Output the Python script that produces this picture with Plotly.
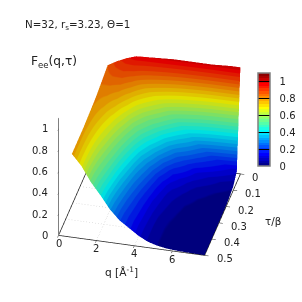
import plotly.graph_objects as go

q_values = [0.7, 1.2, 1.7, 2.2, 2.7, 3.2, 3.7, 4.2, 4.7, 5.2, 5.7, 6.2, 6.7, 7.2, 7.7]
tau_values = [0, 0.05, 0.1, 0.15, 0.2, 0.25, 0.3, 0.35, 0.4, 0.45, 0.5]
# one row per q, one entry per tau
F_q07 = [0.85, 0.835, 0.82, 0.805, 0.795, 0.79, 0.785, 0.78, 0.78, 0.78, 0.78]
F_q12 = [0.90, 0.86, 0.82, 0.785, 0.755, 0.73, 0.71, 0.695, 0.685, 0.68, 0.68]
F_q17 = [0.94, 0.87, 0.80, 0.74, 0.69, 0.655, 0.625, 0.595, 0.57, 0.55, 0.54]
F_q22 = [0.97, 0.84, 0.74, 0.66, 0.60, 0.555, 0.52, 0.49, 0.465, 0.44, 0.43]
F_q27 = [0.975, 0.78, 0.65, 0.55, 0.49, 0.44, 0.40, 0.365, 0.34, 0.32, 0.31]
F_q32 = [0.98, 0.72, 0.56, 0.45, 0.37, 0.32, 0.285, 0.26, 0.24, 0.225, 0.22]
F_q37 = [0.985, 0.65, 0.47, 0.35, 0.27, 0.23, 0.20, 0.18, 0.17, 0.16, 0.16]
F_q42 = [0.99, 0.56, 0.36, 0.24, 0.17, 0.14, 0.12, 0.11, 0.105, 0.10, 0.10]
F_q47 = [0.99, 0.47, 0.26, 0.15, 0.10, 0.08, 0.07, 0.06, 0.055, 0.055, 0.055]
F_q52 = [0.99, 0.39, 0.20, 0.11, 0.07, 0.05, 0.04, 0.033, 0.03, 0.03, 0.03]
F_q57 = [0.99, 0.30, 0.13, 0.07, 0.045, 0.03, 0.024, 0.02, 0.017, 0.015, 0.015]
F_q62 = [0.99, 0.23, 0.10, 0.05, 0.03, 0.02, 0.015, 0.012, 0.01, 0.008, 0.008]
F_q67 = [0.995, 0.18, 0.075, 0.035, 0.02, 0.014, 0.01, 0.008, 0.006, 0.005, 0.005]
F_q72 = [1.0, 0.14, 0.05, 0.025, 0.015, 0.01, 0.007, 0.005, 0.004, 0.003, 0.003]
F_q77 = [1.0, 0.10, 0.035, 0.018, 0.01, 0.007, 0.005, 0.004, 0.003, 0.002, 0.002]
F_rows = [F_q07, F_q12, F_q17, F_q22, F_q27, F_q32, F_q37, F_q42, F_q47, F_q52, F_q57, F_q62, F_q67, F_q72, F_q77]

q_ticks = [0, 2, 4, 6]
tau_ticks = [0, 0.1, 0.2, 0.3, 0.4, 0.5]
z_ticks = [0, 0.2, 0.4, 0.6, 0.8, 1]
q_max = 7.7
z_max = 1.1

FONT = "DejaVu Sans"
INK = "#222222"
jet = [(0, (0, 0, 128)), (0.125, (0, 0, 255)), (0.375, (0, 255, 255)),
       (0.625, (255, 255, 0)), (0.875, (255, 0, 0)), (1, (128, 0, 0))]

def jet_at(t, shade):
    for (a, ca), (b, cb) in zip(jet, jet[1:]):
        if t <= b:
            f = (t - a) / (b - a)
            return "rgb(%d,%d,%d)" % tuple(round((x + (y - x) * f) * shade) for x, y in zip(ca, cb))
    return "rgb(128,0,0)"

def stepped(shade, levels=36):
    out = []
    for i in range(levels):
        c = jet_at((i + 0.5) / levels, shade)
        out += [[i / levels, c], [(i + 1) / levels, c]]
    return out

z_grid = [[F_rows[j][i] for j in range(len(q_values))] for i in range(len(tau_values))]

fig = go.Figure()
for t in tau_ticks[1:-1]:
    fig.add_trace(go.Scatter3d(x=[0, q_max], y=[t, t], z=[0, 0], mode="lines",
                               line=dict(color="#c8c8c8", width=1, dash="dash"), hoverinfo="skip", showlegend=False))
for v in q_ticks[1:]:
    fig.add_trace(go.Scatter3d(x=[v, v], y=[0, 0.5], z=[0, 0], mode="lines",
                               line=dict(color="#c8c8c8", width=1, dash="dash"), hoverinfo="skip", showlegend=False))
fig.add_trace(go.Scatter3d(x=[0, q_max, q_max, 0, 0], y=[0.5, 0.5, 0, 0, 0.5], z=[0] * 5, mode="lines",
                           line=dict(color=INK, width=1.5), hoverinfo="skip", showlegend=False))
fig.add_trace(go.Surface(
    x=q_values, y=tau_values, z=z_grid, cmin=0, cmax=z_max, colorscale=stepped(0.88), showscale=False,
    lighting=dict(ambient=1, diffuse=0, specular=0, fresnel=0, roughness=1), hoverinfo="skip",
))
# colour key: pure palette, carried by an empty trace
fig.add_trace(go.Scatter3d(
    x=[None], y=[None], z=[None], mode="markers", hoverinfo="skip", showlegend=False,
    marker=dict(color=[0], cmin=0, cmax=z_max, colorscale=stepped(1.0), showscale=True, size=1,
                colorbar=dict(thickness=12, thicknessmode="pixels", len=93, lenmode="pixels",
                              x=258 / 302, xanchor="left", xpad=0, y=1 - 119.5 / 302, yanchor="middle", ypad=0,
                              outlinecolor="#808080", outlinewidth=1.5, borderwidth=0,
                              tickvals=z_ticks, ticktext=["\u00a0\u00a0" + str(v) for v in z_ticks],
                              ticks="inside", ticklen=12,
                              tickcolor="black", tickwidth=1, tickfont=dict(family=FONT, size=10, color=INK))),
))

ax = dict(showbackground=False, showgrid=False, zeroline=False, showspikes=False,
          ticks="inside", ticklen=4, tickcolor=INK, tickwidth=1, showticklabels=False, title=dict(text=""))
tick_font = dict(family=FONT, size=10, color=INK)
scene_labels = (
    [dict(x=v, y=0.5, z=0, text=str(v), showarrow=False, xanchor="center", yanchor="middle", yshift=-8, font=tick_font)
     for v in q_ticks]
    + [dict(x=q_max, y=t, z=0, text=str(t), showarrow=False, xanchor="left", yanchor="middle", xshift=10, yshift=-3.5, font=tick_font)
       for t in tau_ticks]
    + [dict(x=0, y=0.5, z=v, text=str(v), showarrow=False, xanchor="right", yanchor="middle", xshift=-9, font=tick_font)
       for v in z_ticks]
)
fig.update_layout(
    width=302, height=302, autosize=False, margin=dict(l=0, r=0, t=0, b=0, autoexpand=False),
    paper_bgcolor="white", showlegend=False,
    scene=dict(
        domain=dict(x=[0, 0.99], y=[0.033, 1]),
        xaxis=dict(ax, range=[0, q_max], tickvals=q_ticks, showline=False),
        yaxis=dict(ax, range=[0.5, 0], tickvals=tau_ticks, showline=False),
        zaxis=dict(ax, range=[0, z_max], tickvals=z_ticks, showline=True, linecolor="#808080", linewidth=2),
        aspectmode="manual", aspectratio=dict(x=1.03, y=1.03, z=0.968),
        camera=dict(projection=dict(type="orthographic"),
                    eye=dict(x=0.198 * 1.215, y=-0.806 * 1.215, z=0.558 * 1.215),
                    center=dict(x=0, y=0, z=0), up=dict(x=0, y=0, z=1)),
        annotations=scene_labels,
    ),
    annotations=[
        dict(text="N=32, r<sub>s</sub>=3.23, \u0398=1", x=23 / 302, y=1 - 25 / 302, xref="paper", yref="paper",
             xanchor="left", yanchor="middle", showarrow=False, font=dict(family=FONT, size=10.3, color=INK)),
        dict(text="F<sub>ee</sub>(q,\u03c4)", x=29 / 302, y=1 - 62 / 302, xref="paper", yref="paper",
             xanchor="left", yanchor="middle", showarrow=False, font=dict(family=FONT, size=12.2, color=INK)),
        dict(text="q [\u00c5<sup>-1</sup>]", x=121 / 302, y=1 - 271 / 302, xref="paper", yref="paper",
             xanchor="center", yanchor="middle", showarrow=False, font=dict(family=FONT, size=10.6, color=INK)),
        dict(text="\u03c4/\u03b2", x=273 / 302, y=1 - 221 / 302, xref="paper", yref="paper",
             xanchor="center", yanchor="middle", showarrow=False, font=dict(family=FONT, size=10.3, color=INK)),
    ],
)
fig.write_html("out.html", config=dict(displayModeBar=False),
               post_script="document.body.style.margin='0';document.documentElement.style.overflow='hidden';")
